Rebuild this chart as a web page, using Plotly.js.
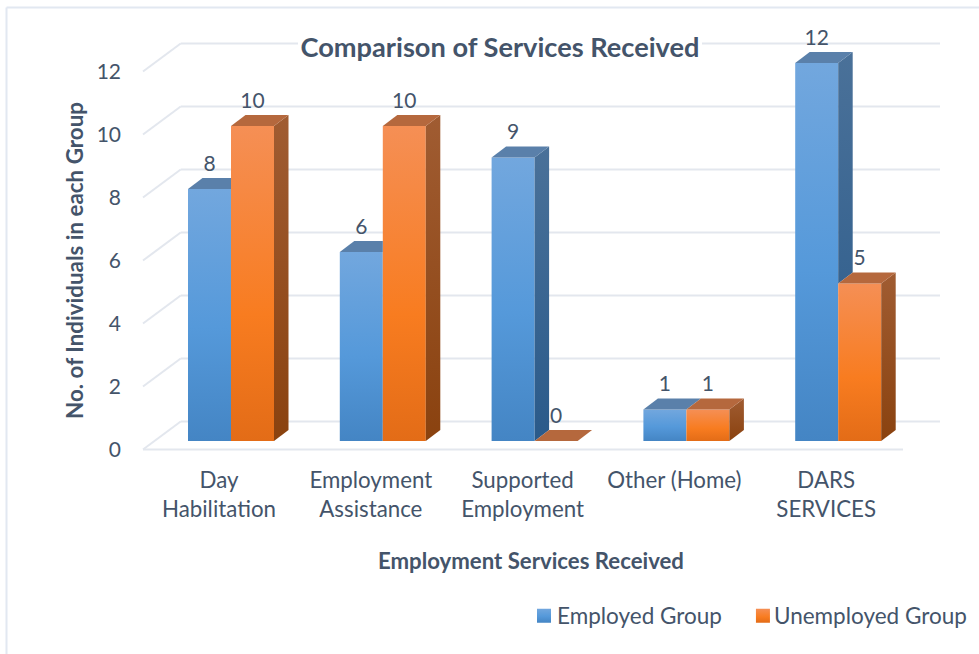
<!DOCTYPE html>
<html>
<head>
<meta charset="utf-8">
<script src="https://cdn.plot.ly/plotly-3.0.1.min.js"></script>
<style>html,body{margin:0;padding:0;background:#fff}#chart{width:979px;height:654px}</style>
</head>
<body>
<div id="chart"></div>
<script>
// Survey counts per employment service
const categories = ['Day<br>Habilitation', 'Employment<br>Assistance', 'Supported<br>Employment', 'Other (Home)', 'DARS<br>SERVICES'];
const employed = [8, 6, 9, 1, 12];
const unemployed = [10, 10, 0, 1, 5];
const yTicks = [0, 2, 4, 6, 8, 10, 12];

const TEXT = '#44546A';
const FONT = 'Lato, "Open Sans", sans-serif';
const GRID = '#E3E7EE';

// Frame in pixels; the pseudo-3D depth is expressed in axis units below.
const W = 979, H = 654;
const plot = {l: 122, r: 940, t: 30, b: 460};
const xUnit = 151.8, yUnit = 31.5;        // px per category, px per count
const x0Px = 219, y0Px = 441;             // where x=0 and y=0 fall
const xOf = px => (px - x0Px) / xUnit;
const yOf = px => (y0Px - px) / yUnit;
const paperX = px => (px - plot.l) / (plot.r - plot.l);
const paperY = px => (plot.b - px) / (plot.b - plot.t);

const barWidth = 43 / xUnit;
const offsetBlue = (188 - x0Px) / xUnit;
const offsetOrange = (231 - x0Px) / xUnit;
const depthX = 14.5 / xUnit, depthY = 11 / yUnit;

const idx = categories.map((_, i) => i);
const traces = [];

traces.push({type: 'bar', name: 'Employed Group', x: idx, y: employed, width: barWidth, offset: offsetBlue,
  marker: {color: '#5B9BD5'}, hoverinfo: 'skip'});
traces.push({type: 'bar', name: 'Unemployed Group', x: idx, y: unemployed, width: barWidth, offset: offsetOrange,
  marker: {color: '#F47C24'}, hoverinfo: 'skip'});

function poly(xs, ys, fill, gradient) {
  const t = {type: 'scatter', mode: 'none', x: xs.concat(xs[0]), y: ys.concat(ys[0]), fill: 'toself',
    showlegend: false, hoverinfo: 'skip'};
  if (gradient) t.fillgradient = gradient; else t.fillcolor = fill;
  return t;
}
function sideGradient(high, bottom, top) {
  return {type: 'vertical', start: high, stop: 0, colorscale: [[0, top], [1, bottom]]};
}

// Side and top faces: a face hidden behind the neighbouring taller bar is trimmed to its visible part.
idx.forEach(i => {
  const b = employed[i], o = unemployed[i];
  const bl = i + offsetBlue, br = bl + barWidth, ol = i + offsetOrange, or = ol + barWidth;
  if (b > o) {
    traces.push(poly([br, br + depthX, br + depthX, br], [o, o + depthY, b + depthY, b], null,
      sideGradient(b + depthY, '#2A5A8A', '#4A7199')));
  }
  const topRight = o > b ? br : br + depthX;
  traces.push(poly([bl, br, topRight, bl + depthX], [b, b, b + depthY, b + depthY], '#5A80AA'));
  if (o > 0) {
    traces.push(poly([or, or + depthX, or + depthX, or], [0, depthY, o + depthY, o], null,
      sideGradient(o + depthY, '#8A420F', '#A05C32')));
  }
  traces.push(poly([ol, or, or + depthX, ol + depthX], [o, o, o + depthY, o + depthY], '#B5683D'));
});

// Value labels float above each bar's top face.
const labelGap = 23.5 / yUnit;
traces.push({type: 'scatter', mode: 'text', showlegend: false, hoverinfo: 'skip', cliponaxis: false,
  x: idx.map(i => i + offsetBlue + barWidth / 2).concat(idx.map(i => i + offsetOrange + barWidth / 2)),
  y: employed.concat(unemployed).map(v => v + labelGap),
  text: employed.concat(unemployed).map(String),
  textposition: 'middle center', textfont: {family: FONT, size: 21, color: TEXT}});

// Carrier trace so the labelled count axis is laid out.
traces.push({type: 'scatter', mode: 'none', x: [0], y: [0], yaxis: 'y2', showlegend: false, hoverinfo: 'skip'});

// Back wall gridlines, side wall diagonals and the floor's front edge.
const shapes = [];
const line = {color: GRID, width: 2};
const frontY = v => v + yOf(449.5);
const backY = v => v + yOf(421.5);
yTicks.forEach(v => {
  shapes.push({type: 'line', layer: 'below', xref: 'x', yref: 'y', x0: xOf(180.7), x1: xOf(940), y0: backY(v), y1: backY(v), line});
  shapes.push({type: 'line', layer: 'below', xref: 'x', yref: 'y', x0: xOf(143), x1: xOf(180.7), y0: frontY(v), y1: backY(v), line});
});
shapes.push({type: 'line', layer: 'below', xref: 'x', yref: 'y', x0: xOf(143), x1: xOf(903), y0: frontY(0), y1: frontY(0), line});
// The title sits on a white plate that interrupts the top gridline.
shapes.push({type: 'rect', layer: 'below', xref: 'x', yref: 'y', x0: xOf(298), x1: xOf(702), y0: yOf(58), y1: yOf(32),
  fillcolor: '#fff', line: {width: 0}});
// Chart frame: top and left edges
const frameLine = {color: '#E2E8F1', width: 2};
shapes.push({type: 'line', layer: 'below', xref: 'paper', yref: 'paper', x0: paperX(6.5), x1: paperX(979), y0: paperY(7.5), y1: paperY(7.5), line: frameLine});
shapes.push({type: 'line', layer: 'below', xref: 'paper', yref: 'paper', x0: paperX(6.5), x1: paperX(6.5), y0: paperY(7.5), y1: paperY(654), line: frameLine});

const layout = {
  width: W, height: H, paper_bgcolor: '#fff', plot_bgcolor: 'rgba(0,0,0,0)',
  margin: {l: plot.l, r: W - plot.r, t: plot.t, b: H - plot.b, autoexpand: false},
  barmode: 'overlay', hovermode: false, shapes,
  font: {family: FONT, color: TEXT},
  title: {text: 'Comparison of Services Received', xref: 'container', yref: 'container', x: 500 / W, xanchor: 'center',
    y: 1 - 47 / H, yanchor: 'middle', font: {family: FONT, size: 27.2, weight: 700, color: TEXT}},
  xaxis: {range: [xOf(plot.l), xOf(plot.r)], tickmode: 'array', tickvals: idx, ticktext: categories,
    ticks: '', showgrid: false, zeroline: false, showline: false, ticklabelstandoff: 5,
    tickfont: {family: FONT, size: 22.3, color: TEXT},
    title: {text: 'Employment Services Received', standoff: 32, font: {family: FONT, size: 22.2, weight: 700, color: TEXT}}},
  yaxis: {range: [yOf(plot.b), yOf(plot.t)], visible: false, showgrid: false, zeroline: false},
  yaxis2: {domain: [paperY(449.5), paperY(71.5)], range: [0, 12],
    anchor: 'x', tickmode: 'array', tickvals: yTicks, showgrid: false, zeroline: false, showline: false, ticks: '',
    tickfont: {family: FONT, size: 21, color: TEXT}, ticklabelstandoff: 0,
    title: {text: 'No. of Individuals in each Group', standoff: 6, font: {family: FONT, size: 22.4, weight: 700, color: TEXT}}},
  legend: {orientation: 'h', xref: 'container', yref: 'container', x: 510 / W, y: 1 - 616 / H, xanchor: 'left', yanchor: 'middle',
    itemwidth: 37,
    font: {family: FONT, size: 22.5, color: TEXT}, bgcolor: 'rgba(0,0,0,0)', itemclick: false, itemdoubleclick: false}
};

// Vertical shading on the bar fronts and legend swatches.
function addGradient(svg, id, stops) {
  const ns = 'http://www.w3.org/2000/svg';
  if (svg.querySelector('#' + id)) return;
  const g = document.createElementNS(ns, 'linearGradient');
  g.setAttribute('id', id);
  g.setAttribute('x1', '0'); g.setAttribute('y1', '0'); g.setAttribute('x2', '0'); g.setAttribute('y2', '1');
  stops.forEach(([o, c]) => {
    const s = document.createElementNS(ns, 'stop');
    s.setAttribute('offset', o); s.setAttribute('stop-color', c);
    g.appendChild(s);
  });
  svg.querySelector('defs').appendChild(g);
}
function shadeBars(gd) {
  const svg = gd.querySelector('.main-svg');
  addGradient(svg, 'blueFront', [[0, '#72A7DE'], [0.55, '#5599DA'], [1, '#4485C4']]);
  addGradient(svg, 'orangeFront', [[0, '#F58F55'], [0.6, '#F87C20'], [1, '#E36C17']]);
  const ids = ['blueFront', 'orangeFront'];
  const swatchShift = [34, 36];
  gd.querySelectorAll('.barlayer .trace.bars').forEach((t, i) => {
    t.querySelectorAll('.point path').forEach(p => { p.style.fill = 'url(#' + ids[i] + ')'; });
  });
  gd.querySelectorAll('.legend .traces').forEach((t, i) => {
    t.querySelectorAll('.legendpoints path').forEach(p => {
      p.setAttribute('d', 'M7,7H-7V-7H7Z');
      p.style.fill = 'url(#' + ids[i] + ')';
      p.setAttribute('transform', 'translate(' + swatchShift[i] + ',0)');
    });
  });
}

const gd = document.getElementById('chart');
Plotly.newPlot(gd, traces, layout, {displayModeBar: false}).then(() => {
  shadeBars(gd);
  gd.on('plotly_afterplot', () => shadeBars(gd));
});
</script>
</body>
</html>
